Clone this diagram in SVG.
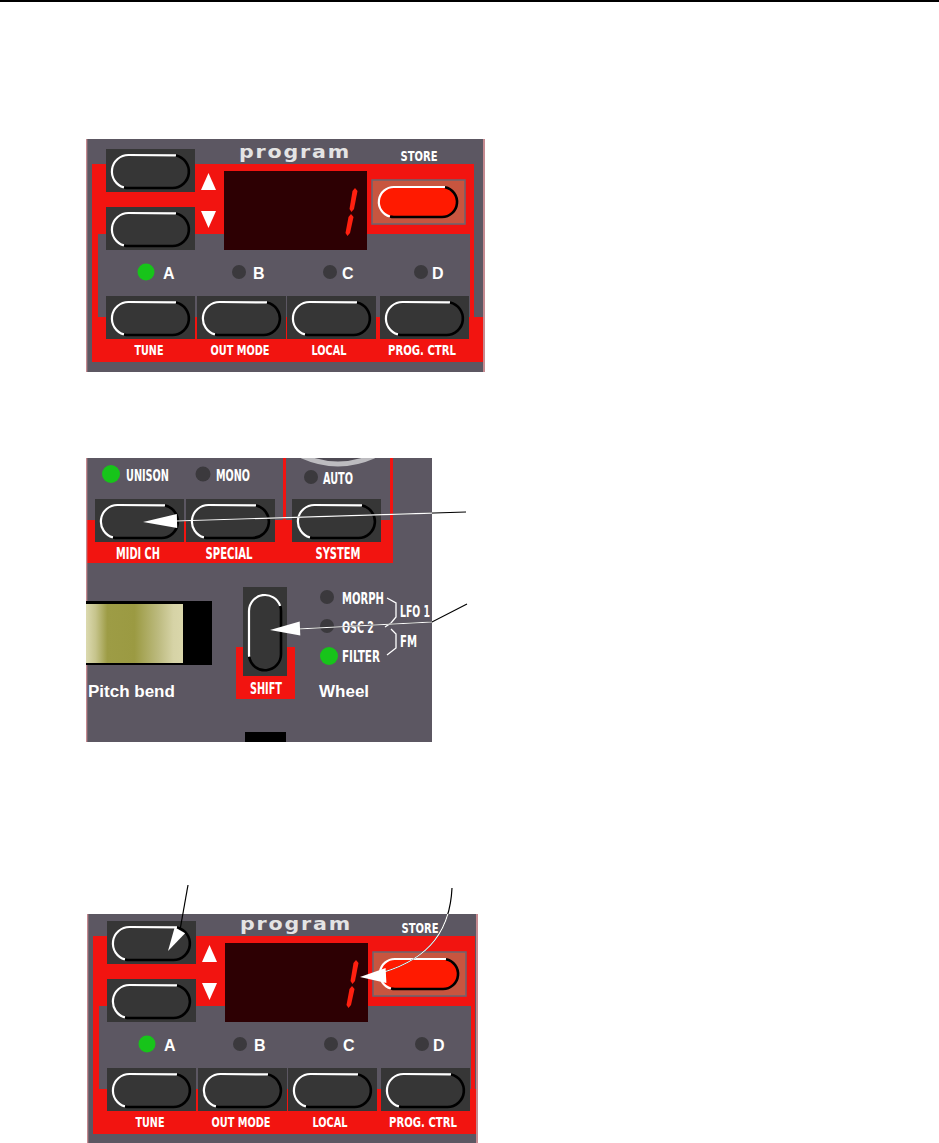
<svg xmlns="http://www.w3.org/2000/svg" xmlns:xlink="http://www.w3.org/1999/xlink" width="939" height="1143" viewBox="0 0 939 1143">
<style>
.panel{fill:#5c5762}
.red{fill:#f21410}
.box{fill:#363636}
.edge{fill:#c58a90}
.pw{fill:none;stroke:#fff;stroke-width:2.2}
.pb{fill:none;stroke:#000;stroke-width:2.6}
.led{fill:#3b393d}
.gled{fill:#17c41a}
.lbl{font-family:"DejaVu Sans Condensed","DejaVu Sans",sans-serif;font-stretch:condensed;font-weight:bold;fill:#fff}
.big{font-family:"Liberation Sans",Arial,sans-serif;font-weight:bold;fill:#fff}
.tl{font-size:13.5px;text-anchor:middle}
.ml{font-size:15px}
.prog{font-family:"DejaVu Sans",sans-serif;font-weight:bold;font-size:17px;letter-spacing:1.5px;fill:#e4e4e4}
.seg{fill:#ff2010}
.cb{fill:none;stroke:#000;stroke-width:1.2}
.cw{fill:none;stroke:#fff;stroke-width:1.2}
.ah{fill:#fff}
</style>
<defs>
<g id="bh">
<rect width="89" height="43" class="box"/>
<path d="M18 38.4A16.5 16.5 0 0 1 22.5 6L70 6.4" class="pw"/>
<path d="M70 6.4A16.5 16.5 0 0 1 66.5 39H22.5A16.5 16.5 0 0 1 18 38.4" class="pb"/>
</g>
<linearGradient id="bend" x1="0" y1="0" x2="1" y2="0">
<stop offset="0" stop-color="#dcdab0"/>
<stop offset="0.1" stop-color="#c6c48c"/>
<stop offset="0.22" stop-color="#9d9c45"/>
<stop offset="0.5" stop-color="#9b9a42"/>
<stop offset="0.75" stop-color="#bdbb80"/>
<stop offset="0.9" stop-color="#d6d3a6"/>
<stop offset="1" stop-color="#dad7ab"/>
</linearGradient>
<clipPath id="clipMid"><rect x="86" y="458" width="346" height="284"/></clipPath>
<clipPath id="clipBot"><rect x="86" y="914" width="392" height="229"/></clipPath>
<g id="progPanel">
<rect x="86" y="139" width="399" height="233" class="panel"/>
<path d="M92 164H474V317H483V362H92Z" class="red"/>
<rect x="98" y="234" width="372" height="83" class="panel"/>
<rect x="86" y="139" width="1.3" height="233" class="edge"/>
<rect x="483" y="139" width="2" height="233" class="edge"/>
<text x="239" y="158" class="prog" textLength="112" lengthAdjust="spacingAndGlyphs">program</text>
<text x="419" y="161" class="lbl tl" textLength="37" lengthAdjust="spacingAndGlyphs">STORE</text>
<use xlink:href="#bh" x="106" y="149"/>
<use xlink:href="#bh" x="106" y="207"/>
<polygon points="201,190 216,190 208.5,173" fill="#fff"/>
<polygon points="201,211 216,211 208.5,228" fill="#fff"/>
<rect x="224" y="171" width="143" height="79" fill="#2d0003"/>
<polygon points="355,188 357.5,191 354,209 351.5,212 349.5,209 352.5,191" class="seg"/>
<polygon points="351,214 353.5,217 350,233 347.5,236 345.5,233 348.5,217" class="seg"/>
<rect x="372" y="180" width="93" height="44" fill="#c8553f" stroke="#6a6570" stroke-width="1.5"/>
<g transform="translate(379,187)">
<rect width="78" height="30" rx="15" fill="#ff1a00"/>
<path d="M11 29.5A15 15 0 0 1 15 0H66" class="pw"/>
<path d="M66 0.3A15 15 0 0 1 63 30H15A15 15 0 0 1 11 29.5" class="pb"/>
</g>
<circle cx="146" cy="272" r="8.5" class="gled"/>
<circle cx="239" cy="272" r="7" class="led"/>
<circle cx="330" cy="272" r="7" class="led"/>
<circle cx="421" cy="272" r="7" class="led"/>
<text x="163" y="279" class="big" font-size="16">A</text>
<text x="253" y="279" class="big" font-size="16">B</text>
<text x="342" y="279" class="big" font-size="16">C</text>
<text x="432" y="279" class="big" font-size="16">D</text>
<use xlink:href="#bh" x="106" y="296"/>
<use xlink:href="#bh" x="197" y="296"/>
<use xlink:href="#bh" x="287" y="296"/>
<use xlink:href="#bh" x="380" y="296"/>
<text x="149" y="355" class="lbl tl" textLength="29" lengthAdjust="spacingAndGlyphs">TUNE</text>
<text x="240" y="355" class="lbl tl" textLength="59" lengthAdjust="spacingAndGlyphs">OUT MODE</text>
<text x="329" y="355" class="lbl tl" textLength="35" lengthAdjust="spacingAndGlyphs">LOCAL</text>
<text x="422" y="355" class="lbl tl" textLength="68" lengthAdjust="spacingAndGlyphs">PROG. CTRL</text>
</g>
</defs>
<rect x="0" y="0" width="939" height="2" fill="#000"/>
<g id="panel-program-top">
<use xlink:href="#progPanel"/>
</g>
<g id="panel-shift">
<rect x="86" y="458" width="346" height="284" class="panel"/>
<g clip-path="url(#clipMid)">
<path d="M302 456 Q338 472 374 456Z" fill="#4e4a53"/>
<path d="M302 456 Q338 472 374 456" fill="none" stroke="#bdbcc0" stroke-width="5"/>
</g>
<rect x="86" y="520" width="307" height="43" class="red"/>
<rect x="283" y="458" width="3" height="62" class="red"/>
<rect x="390" y="458" width="3" height="62" class="red"/>
<rect x="86" y="458" width="1.3" height="284" class="edge"/>
<circle cx="111" cy="474" r="9" class="gled"/>
<circle cx="203" cy="474" r="7.5" class="led"/>
<circle cx="311" cy="477" r="7" class="led"/>
<text x="126" y="481" class="lbl ml" textLength="43" lengthAdjust="spacingAndGlyphs">UNISON</text>
<text x="216" y="481" class="lbl ml" textLength="34" lengthAdjust="spacingAndGlyphs">MONO</text>
<text x="323" y="484" class="lbl ml" textLength="30" lengthAdjust="spacingAndGlyphs">AUTO</text>
<use xlink:href="#bh" x="95" y="499"/>
<use xlink:href="#bh" x="186" y="499"/>
<use xlink:href="#bh" x="292" y="499"/>
<text x="138" y="559" class="lbl ml" text-anchor="middle" textLength="44" lengthAdjust="spacingAndGlyphs">MIDI CH</text>
<text x="229" y="559" class="lbl ml" text-anchor="middle" textLength="47" lengthAdjust="spacingAndGlyphs">SPECIAL</text>
<text x="338" y="559" class="lbl ml" text-anchor="middle" textLength="45" lengthAdjust="spacingAndGlyphs">SYSTEM</text>
<rect x="86" y="601" width="126" height="64" fill="#000"/>
<rect x="86" y="604" width="97" height="59" fill="url(#bend)"/>
<text x="88" y="697" class="big" font-size="17">Pitch bend</text>
<rect x="236" y="647" width="59" height="52" class="red"/>
<rect x="243" y="587" width="44" height="89" class="box"/>
<path d="M249.2 656.8A16 16 0 0 1 249 654V611A16 16 0 0 1 280.2 606" class="pw"/>
<path d="M280.2 606A16 16 0 0 1 281 611V654A16 16 0 0 1 249.2 656.8" class="pb"/>
<text x="266" y="694" class="lbl ml" text-anchor="middle" textLength="32" lengthAdjust="spacingAndGlyphs">SHIFT</text>
<rect x="245" y="732" width="41" height="10" fill="#000"/>
<circle cx="327" cy="597" r="7" class="led"/>
<circle cx="327" cy="626" r="7" class="led"/>
<circle cx="329" cy="656" r="9" class="gled"/>
<text x="342" y="604" class="lbl ml" textLength="42" lengthAdjust="spacingAndGlyphs">MORPH</text>
<text x="342" y="633" class="lbl ml" textLength="32" lengthAdjust="spacingAndGlyphs">OSC 2</text>
<text x="342" y="662" class="lbl ml" textLength="38" lengthAdjust="spacingAndGlyphs">FILTER</text>
<path d="M387 598L396 603V617L391 623L385 627M391 629L396 634V648L387 655" fill="none" stroke="#fff" stroke-width="1.3"/>
<text x="400" y="617" class="lbl ml" textLength="30" lengthAdjust="spacingAndGlyphs">LFO 1</text>
<text x="400" y="647" class="lbl ml" textLength="17" lengthAdjust="spacingAndGlyphs">FM</text>
<text x="319" y="697" class="big" font-size="17">Wheel</text>
</g>
<g id="panel-program-bottom">
<g clip-path="url(#clipBot)">
<use xlink:href="#progPanel" transform="translate(1,772)"/>
</g>
<rect x="476" y="914" width="2" height="229" class="edge"/>
</g>
<g id="connectors">
<line x1="466" y1="512" x2="176" y2="521" class="cb"/>
<line x1="466" y1="512" x2="176" y2="521" class="cw" clip-path="url(#clipMid)"/>
<polygon points="143,522 177.2,528 176.8,514" class="ah"/>
<polyline points="467,604 432,622 298,629" class="cb"/>
<polyline points="467,604 432,622 298,629" class="cw" clip-path="url(#clipMid)"/>
<polygon points="270,630 300.3,635.5 299.7,621.5" class="ah"/>
<line x1="188" y1="885" x2="180" y2="930" class="cb"/>
<polygon points="168,951 185.1,933.2 174.7,927.2" class="ah"/>
<path d="M452 888C450 930 430 958 384 972" class="cb"/>
<path d="M452 888C450 930 430 958 384 972" class="cw" clip-path="url(#clipBot)"/>
<polygon points="360,977 386.4,983 385.6,968" class="ah"/>
</g>
</svg>
